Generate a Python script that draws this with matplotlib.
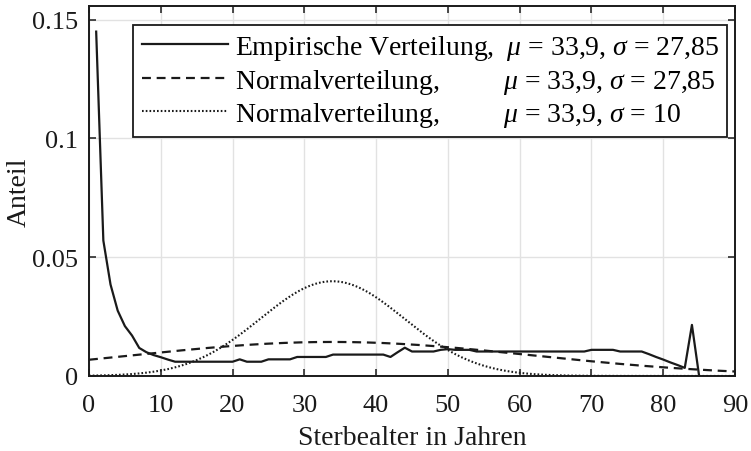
import numpy as np
import matplotlib.pyplot as plt

# Empirical death-age shares (ages 1..85)
age = np.arange(1, 86)
share = [
    0.145, 0.057, 0.0385, 0.0275, 0.021, 0.017, 0.0118, 0.010, 0.0088, 0.0079,   # 1-10
    0.0069, 0.006, 0.006, 0.006, 0.006, 0.006, 0.006, 0.006, 0.006, 0.006,      # 11-20
    0.007, 0.006, 0.006, 0.006, 0.007, 0.007, 0.007, 0.007, 0.008, 0.008,       # 21-30
    0.008, 0.008, 0.008, 0.009, 0.009, 0.009, 0.009, 0.009, 0.009, 0.009,       # 31-40
    0.009, 0.008, 0.010, 0.0119, 0.0103, 0.0103, 0.0103, 0.0103, 0.011, 0.0113,  # 41-50
    0.011, 0.011, 0.011, 0.0103, 0.0103, 0.0103, 0.0103, 0.0103, 0.0103, 0.0103,  # 51-60
    0.0103, 0.0103, 0.0103, 0.0103, 0.0103, 0.0103, 0.0103, 0.0103, 0.0103, 0.011,  # 61-70
    0.011, 0.011, 0.011, 0.0103, 0.0103, 0.0103, 0.0103, 0.0092, 0.008, 0.0069,  # 71-80
    0.0057, 0.0046, 0.0034, 0.0215, 0.0,                                          # 81-85
]

mu = 33.9
sigma_wide = 27.85
sigma_narrow = 10

x_ticks = [0, 10, 20, 30, 40, 50, 60, 70, 80, 90]
y_ticks = [0, 0.05, 0.1, 0.15]
y_ticklabels = ["0", "0.05", "0.1", "0.15"]

label_emp = "Empirische Verteilung,"
label_norm = "Normalverteilung,"
par_wide = r"$\mu$ = 33,9, $\sigma$ = 27,85"
par_narrow = r"$\mu$ = 33,9, $\sigma$ = 10"

FS = 20
TICK_FS = 19
INK = "#1a1a1a"

plt.rcParams["font.family"] = ["Liberation Serif", "DejaVu Serif"]
plt.rcParams["mathtext.fontset"] = "custom"
plt.rcParams["mathtext.rm"] = "Liberation Serif"
plt.rcParams["mathtext.it"] = "Liberation Serif:italic"


def normal_pdf(x, m, s):
    return np.exp(-0.5 * ((x - m) / s) ** 2) / (s * np.sqrt(2 * np.pi))


fig = plt.figure(figsize=(7.51, 4.52), dpi=100)
ax = fig.add_axes([0.1185, 0.166, 0.8602, 0.8186])

xs = np.linspace(0, 90, 901)

renderer = fig.canvas.get_renderer()


def text_width(s):
    t = fig.text(0, 0, s, fontsize=FS)
    w = t.get_window_extent(renderer).width
    t.remove()
    return w


# line up the parameter column with \hspace
unit = (text_width(r"N$\hspace{10}$N") - text_width("NN")) / 10
col_gap = 13  # px between the comma and mu in the first row
h1 = col_gap / unit
h2 = (text_width(label_emp) + col_gap - text_width(label_norm)) / unit

lab1 = label_emp + r"$\hspace{%.3f}$" % h1 + par_wide
lab2 = label_norm + r"$\hspace{%.3f}$" % h2 + par_wide
lab3 = label_norm + r"$\hspace{%.3f}$" % h2 + par_narrow

ax.plot(age, share, color=INK, lw=1.6, label=lab1)
ax.plot(xs, normal_pdf(xs, mu, sigma_wide), color=INK, lw=1.6,
        linestyle=(0, (4, 2.6)), label=lab2)
ax.plot(xs, normal_pdf(xs, mu, sigma_narrow), color=INK, lw=1.5,
        linestyle=(0, (0.8, 1.0)), label=lab3)

ax.set_xlim(0, 90)
ax.set_ylim(0, 0.1558)
ax.set_xticks(x_ticks)
ax.set_yticks(y_ticks)
ax.set_yticklabels(y_ticklabels)
ax.tick_params(direction="in", top=True, right=True, length=5, width=1.1,
               labelsize=TICK_FS, colors=INK)
ax.tick_params(axis="x", pad=13)
ax.tick_params(axis="y", pad=8)
ax.grid(True, color="#e2e2e2", lw=1.0)
ax.set_axisbelow(True)
for sp in ax.spines.values():
    sp.set_linewidth(1.4)
    sp.set_color(INK)

ax.set_xlabel("Sterbealter in Jahren", fontsize=FS, color=INK)
ax.set_ylabel("Anteil", fontsize=FS, color=INK)
ax.xaxis.set_label_coords(0.5, -0.132)
ax.yaxis.set_label_coords(-0.089, 0.5)

leg = ax.legend(loc="upper right", bbox_to_anchor=(0.988, 0.949),
                borderaxespad=0, fontsize=FS, frameon=True, fancybox=False,
                framealpha=1, edgecolor=INK, handlelength=3.1,
                handletextpad=0.25, labelspacing=0.16, borderpad=0.3)
leg.get_frame().set_linewidth(1.3)

fig.savefig("out.png", dpi=100)
